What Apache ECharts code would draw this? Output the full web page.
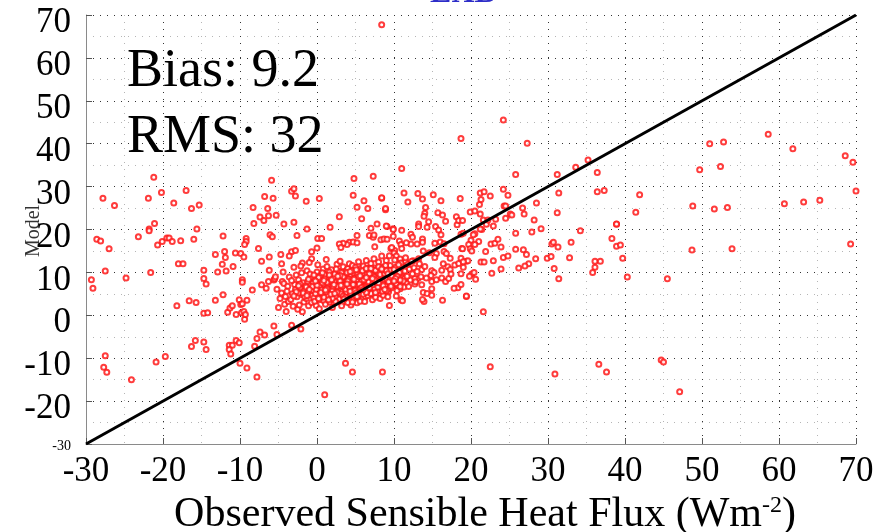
<!DOCTYPE html>
<html>
<head>
<meta charset="utf-8">
<script src="https://cdn.jsdelivr.net/npm/echarts@6/dist/echarts.min.js"></script>
<style>html,body{margin:0;padding:0;background:#fff}#c{width:884px;height:532px}</style>
</head>
<body>
<div id="c"></div>
<script>
// ---- data ----
const titleText = 'EXB';
const xAxisName = 'Observed Sensible Heat Flux (Wm';
const yAxisName = 'Model';
const biasText = 'Bias: 9.2';
const rmsText = 'RMS: 32';
const axisMin = -30, axisMax = 70, axisStep = 10;
const oneToOne = [[-30, -30], [70, 70]];

const ptsLeft = [
 [-21.2,32.2],[-27.8,27.3],[-26.3,25.6],[-20.2,28.6],[-21.9,27.3],[-18.6,26.2],[-17.0,29.1],[-16.3,24.9],[-15.3,25.7],
 [-21.1,21.4],[-21.8,20.1],[-21.8,19.7],[-23.2,18.3],[-28.6,17.7],[-28.1,17.3],[-27.0,15.5],[-20.7,16.4],[-20.1,17.2],
 [-19.5,18.0],[-19.2,18.0],[-18.8,17.2],[-17.7,17.4],[-16.0,17.7],[-15.6,20.1],[-18.0,12.0],[-17.4,12.0],[-21.6,10.0],
 [-27.5,10.3],[-29.3,8.3],[-29.1,6.3],[-24.8,8.7],[-16.6,3.4],[-15.7,3.0],[-18.2,2.2],[-14.7,10.5],[-14.7,8.6],[-14.4,7.3],
 [-14.7,0.5],[-14.2,0.6],[-13.2,3.5],[-12.2,4.8],[-13.2,14.2],[-12.2,18.5],[-12.0,14.9],[-12.3,11.9],[-12.9,10.1],[-11.8,10.3],
 [-10.9,11.4],[-11.9,13.5],[-10.6,14.5],[-15.8,-5.9],[-16.3,-7.3],[-14.7,-6.2],[-14.4,-8.0],[-19.7,-9.6],[-20.9,-10.9],
 [-27.5,-9.4],[-27.7,-12.1],[-27.3,-13.3],[-24.1,-15.0],[-11.6,0.7],[-11.3,1.7],[-11.0,2.2],[-10.5,0.2],[-10.1,3.6],[-9.9,2.5],
 [-9.8,0.6],[-9.4,-0.9],[-9.5,0.9],[-9.3,0.2],[-11.4,-7.0],[-11.0,-7.0],[-11.4,-8.0],[-11.2,-9.0],[-10.5,-5.9],[-10.1,-6.4],
 [-10.0,-11.2],[-9.1,-12.3],[-7.8,-14.4],[-8.1,-7.2],[-7.8,-5.4],[-7.4,-3.9],[-6.8,-4.6],[-5.2,-4.5],[-5.6,-2.5],[-3.3,-2.3],
 [-2.1,-3.2],[1.0,-18.5],[3.7,-11.2],[4.6,-13.2],[8.5,-13.2]
];
const ptsUpper = [
 [8.4,67.7],[-5.9,31.5],[-3.3,28.9],[-3.0,29.5],[-2.8,27.8],[-6.8,27.7],[-5.7,27.3],[-1.4,26.6],[0.3,27.2],[-8.3,25.1],
 [-6.4,24.9],[-7.4,22.9],[-6.9,22.1],[-6.3,23.2],[-5.3,23.3],[-8.2,21.4],[-4.3,21.3],[-3.0,21.7],[-1.3,20.1],[-2.6,18.6],
 [-6.1,18.8],[-5.8,18.3],[-9.2,17.9],[-9.2,17.2],[-9.4,16.5],[-9.9,14.4],[-9.5,13.6],[-7.6,15.6],[-7.2,12.6],[-6.2,13.6],
 [-4.7,14.2],[-4.6,12.0],[-3.3,14.8],[-2.8,15.1],[-3.6,13.8],[-0.7,14.8],[-1.9,12.2],[-0.7,13.2],[-6.2,10.5],[-9.7,8.3],
 [-9.7,7.7],[-8.4,5.9],[-9.1,3.5],[-9.7,2.7],[-7.2,7.1],[-6.6,6.3],[-6.3,7.9],[-5.6,8.2],[-5.5,8.5],[-4.5,7.9],[0.1,17.9],
 [0.6,17.9],[0.0,15.7],[1.7,20.5],[2.9,23.0],[4.7,28.0],[4.8,31.9],[5.2,25.2],[6.1,26.7],[6.6,24.9],[7.3,32.4],[8.4,27.3],
 [8.9,24.6],[5.8,22.5],[7.8,21.3],[7.0,20.3],[9.1,20.7],[9.9,20.2],[5.2,18.6],[4.2,17.0],[4.7,17.1],[5.2,16.9],[3.9,16.5],
 [3.4,16.8],[2.9,16.6],[3.1,15.8],[6.8,18.6],[7.3,18.2],[7.4,18.7],[8.3,17.6],[8.7,17.8],[7.5,16.0],[9.6,15.6],[10.1,15.1]
];
const ptsRight = [
 [24.2,45.5],[18.7,41.2],[27.3,40.1],[11.0,34.2],[35.2,36.2],[33.6,34.5],[36.4,33.3],[31.2,32.8],[25.8,32.8],[31.4,28.5],
 [36.4,28.8],[37.3,29.1],[41.9,28.1],[41.4,24.0],[38.9,21.2],[38.9,21.3],[34.2,19.7],[38.3,17.9],[38.9,16.1],[39.4,16.4],
 [39.7,13.3],[40.3,8.9],[33.0,17.0],[36.1,12.6],[36.8,12.6],[36.1,11.2],[35.8,10.0],[32.8,13.4],[31.2,23.9],[30.8,10.9],
 [31.4,8.5],[29.9,13.3],[30.4,13.7],[30.5,16.6],[30.7,17.0],[31.3,15.9],[29.1,20.2],[28.5,26.2],[28.2,22.2],[27.9,19.4],
 [26.9,23.6],[26.7,25.0],[25.8,19.1],[25.8,15.4],[26.8,15.3],[27.2,14.2],[28.4,13.2],[27.5,12.0],[27.0,11.5],[26.2,11.0],
 [45.5,8.5],[48.7,15.2],[48.8,25.5],[49.7,33.9],[51.0,40.0],[52.8,40.4],[52.4,34.7],[51.6,24.8],[53.3,25.1],[53.9,15.5],
 [58.6,42.2],[61.8,38.8],[60.7,26.0],[63.2,26.4],[65.3,26.8],[68.6,37.2],[69.6,35.7],[70.0,29.0],[69.3,16.6],[22.5,-12.0],
 [30.9,-13.7],[36.6,-11.4],[37.6,-13.2],[44.7,-10.4],[45.0,-10.9],[47.1,-17.8],[21.6,0.8],[19.4,4.4],[16.3,3.5],[13.9,3.2],
 [13.7,3.7],[10.9,3.6],[11.1,3.4],[9.4,2.3]
];
const ptsMid = [
 [13.1,28.4],[11.3,28.5],[13.7,27.1],[11.8,26.4],[15.1,28.1],[16.1,26.7],[14.1,25.1],[14.0,23.8],[13.9,23.1],[13.2,21.3],
 [13.2,20.7],[14.3,20.5],[14.5,21.8],[15.7,23.9],[16.3,23.4],[16.7,21.9],[15.4,20.7],[15.8,19.9],[16.1,18.8],[16.0,17.1],
 [15.3,16.8],[16.5,16.7],[13.7,17.8],[13.7,17.0],[13.0,16.6],[12.2,16.6],[12.2,18.9],[12.4,18.2],[11.0,19.8],[9.9,20.0],
 [9.9,18.4],[9.0,20.8],[8.9,24.9],[8.4,27.4],[10.7,17.3],[10.9,16.5],[11.6,16.9],[11.0,15.6],[9.7,15.8],[9.1,17.7],
 [10.0,14.5],[10.3,13.8],[10.8,13.1],[11.5,12.6],[12.5,12.7],[13.2,13.2],[13.8,15.0],[14.6,14.6],[15.5,14.4],[15.3,13.5],
 [16.5,14.9],[16.8,14.4],[17.3,13.3],[16.4,12.0],[17.0,11.3],[17.3,10.7],[16.2,10.5],[14.9,10.4],[15.2,10.0],[14.8,9.3],
 [13.6,10.7],[13.1,8.6],[12.7,8.6],[12.1,8.2],[11.6,7.5],[11.3,8.6],[11.0,9.8],[10.8,9.2],[10.6,8.0],[10.3,7.2],
 [10.8,6.2],[11.3,6.6],[11.9,6.7],[12.7,7.3],[13.6,7.1],[13.8,5.3],[14.3,5.1],[14.9,7.9],[14.9,6.2],[14.9,4.7],
 [15.5,8.3],[16.2,8.7],[16.7,7.9],[17.1,8.6],[17.4,9.6],[17.9,11.7],[18.4,12.1],[18.7,13.3],[18.7,9.7],[19.0,11.2],
 [19.4,12.6],[18.8,15.6],[18.7,18.9],[19.0,19.1],[18.2,21.1],[18.1,23.0],[18.6,27.2],[18.4,22.1],[18.9,22.1],[19.9,24.1],
 [20.5,24.3],[21.2,23.6],[21.1,25.8],[21.2,28.5],[21.7,28.8],[21.3,27.0],[22.5,27.8],[24.2,29.4],[24.8,28.0],[24.3,25.5],
 [24.5,25.5],[25.1,23.6],[25.3,23.4],[24.5,22.6],[23.2,22.4],[22.9,20.8],[22.0,21.2],[21.4,20.0],[20.5,19.0],[21.2,20.1],
 [20.3,18.8],[20.0,17.5],[21.0,17.2],[20.5,16.5],[19.7,16.5],[19.9,15.5],[18.9,15.5],[20.1,15.0],[19.6,12.7],[19.0,12.5],
 [20.1,9.6],[20.6,8.4],[19.8,9.1],[19.4,4.5],[18.3,6.4],[17.8,6.3],[18.7,7.2],[20.4,10.0],[21.3,12.4],[21.7,12.4],
 [21.9,14.9],[22.6,16.6],[23.1,16.8],[23.5,17.7],[23.9,15.9],[24.2,13.5],[24.8,13.8],[22.9,12.7],[22.7,9.8],[23.9,10.8],
 [21.6,22.2],[22.2,22.2],
 [10.2,10.1],[10.6,9.4],[11.0,11.5],[11.4,10.3],[10.9,12.2],[11.7,9.1],[12.0,10.8],[11.2,8.0],[10.5,6.9],[12.4,9.7],
 [11.8,11.9],[12.6,11.1],[13.0,10.2],[12.3,12.6],[11.5,13.4],[13.3,12.0],[13.5,9.0],[12.8,7.8],[14.0,11.4],[14.2,8.7]
];
const ptsCluster = [
 [-5.2,6.1],[-4.8,3.9],[-5.4,9.0],[-4.6,5.2],[-5.0,1.8],[-4.3,7.4],
 [-4.1,4.4],[-3.8,6.8],[-4.2,2.6],[-3.6,8.9],[-3.9,5.6],[-4.4,10.1],[-3.7,3.2],[-4.0,0.9],
 [-3.2,5.0],[-2.9,7.2],[-3.4,3.7],[-2.7,9.4],[-3.1,2.1],[-2.8,6.0],[-3.3,8.1],[-2.6,4.3],[-3.0,11.2],[-2.5,1.4],
 [-2.2,6.5],[-1.9,4.8],[-2.4,8.3],[-1.7,3.1],[-2.0,9.9],[-1.6,5.7],[-2.3,2.4],[-1.8,7.6],[-2.1,11.5],[-1.5,6.9],[-2.4,5.2],[-1.9,0.8],
 [-1.2,5.3],[-0.9,7.1],[-1.4,3.9],[-0.7,8.8],[-1.1,2.2],[-0.8,6.2],[-1.3,10.4],[-0.6,4.6],[-1.0,12.3],[-0.5,5.8],[-1.2,7.9],[-0.7,3.0],[-1.4,6.6],[-0.9,9.6],
 [-0.2,6.4],[0.1,4.9],[-0.3,8.2],[0.3,3.6],[0.0,10.1],[0.4,5.6],[-0.1,2.3],[0.2,7.4],[0.5,9.0],[-0.4,4.1],[0.6,6.8],[0.1,11.8],[0.3,1.5],[-0.2,5.1],[0.5,8.3],[0.7,4.4],
 [0.8,6.0],[1.1,7.9],[0.9,3.4],[1.3,5.2],[1.0,9.5],[1.4,4.0],[0.8,10.8],[1.2,6.6],[1.5,8.6],[1.1,2.6],[1.6,5.7],[0.9,7.2],[1.3,11.4],[1.7,3.1],[1.4,6.9],[1.0,4.7],[1.8,9.1],[1.2,13.0],
 [1.9,5.4],[2.1,7.7],[2.3,4.2],[2.0,9.2],[2.4,6.3],[2.2,2.9],[2.6,8.4],[1.9,10.6],[2.5,5.0],[2.7,7.0],[2.1,3.7],[2.8,9.9],[2.3,6.0],[2.6,11.9],[2.0,1.8],[2.9,4.6],[2.4,8.0],[2.7,5.8],
 [3.0,6.5],[3.2,8.7],[3.1,4.1],[3.4,7.3],[2.9,10.2],[3.5,5.3],[3.3,3.0],[3.6,9.4],[3.1,6.0],[3.7,7.8],[3.4,11.3],[3.8,4.8],[3.2,2.2],[3.9,6.7],[3.5,8.9],[3.0,12.6],[3.6,5.9],[3.8,10.4],
 [4.0,7.1],[4.2,5.2],[4.1,9.0],[4.4,6.2],[4.3,3.5],[4.6,8.1],[4.0,10.9],[4.7,4.6],[4.5,7.5],[4.2,12.0],[4.8,6.8],[4.4,2.4],[4.9,9.6],[4.1,5.8],[4.6,11.6],[4.3,8.6],[4.8,3.9],[4.5,6.0],
 [5.0,7.6],[5.2,5.5],[5.1,9.3],[5.4,6.6],[5.3,4.0],[5.6,8.4],[5.0,11.2],[5.7,5.0],[5.5,10.0],[5.2,2.9],[5.8,7.1],[5.4,12.5],[5.9,9.0],[5.1,6.2],[5.6,3.3],[5.3,8.0],[5.8,11.0],[5.0,4.5],
 [6.0,7.9],[6.2,5.9],[6.1,9.8],[6.4,7.0],[6.3,4.3],[6.6,8.7],[6.0,11.5],[6.7,6.1],[6.5,10.3],[6.2,3.2],[6.8,7.6],[6.4,12.8],[6.9,9.2],[6.1,5.2],[6.6,4.6],[6.3,8.2],[6.8,11.1],[6.5,6.6],
 [7.0,8.3],[7.2,6.4],[7.1,10.1],[7.4,7.3],[7.3,4.9],[7.6,9.0],[7.0,12.1],[7.7,5.8],[7.5,11.0],[7.2,3.6],[7.8,8.0],[7.4,13.2],[7.9,9.7],[7.1,6.9],[7.6,4.2],[7.3,10.6],[7.8,6.2],
 [8.0,8.7],[8.2,6.8],[8.1,10.5],[8.4,7.6],[8.3,5.1],[8.6,9.4],[8.0,12.4],[8.7,6.2],[8.5,11.2],[8.2,3.9],[8.8,8.3],[8.4,13.8],[8.9,10.0],[8.1,7.1],[8.6,4.7],[8.3,9.0],
 [9.0,9.1],[9.2,7.1],[9.1,10.9],[9.4,8.0],[9.3,5.5],[9.6,9.8],[9.0,12.8],[9.7,6.4],[9.5,11.6],[9.2,4.3],[9.8,8.6],[9.4,13.9],[9.9,10.4],[9.1,7.6],
 [10.1,9.4],[10.3,7.4],[10.2,11.2],[10.5,8.3],[10.4,5.8],[10.7,10.0],[10.1,12.9],[10.8,6.7],[10.6,11.8],[10.3,4.5]
];
const ptsCore = [
 [0.3,6.9],[0.8,5.1],[1.5,7.4],[1.9,6.1],[2.2,8.8],[2.5,4.4],[2.9,7.5],[3.3,5.6],[3.6,6.4],[3.9,8.2],[4.1,4.3],[4.4,9.5],[4.7,5.5],[5.0,8.8],[5.3,6.9],
 [5.6,7.7],[5.9,5.8],[6.2,8.6],[6.5,7.3],[6.8,5.5],[7.1,9.4],[7.4,6.6],[7.7,8.7],[8.0,5.8],[8.3,7.9],[8.6,10.2],[8.9,7.0],[9.2,8.9],[9.5,7.3],[9.8,9.9],
 [0.6,5.9],[1.0,8.5],[1.4,4.6],[1.7,7.9],[2.0,5.7],[2.3,9.6],[2.6,6.8],[2.9,3.8],[3.2,9.9],[3.5,7.0],[3.8,5.4],[4.1,8.4],[4.4,5.0],[4.7,9.9],[5.0,6.0],
 [5.3,9.6],[5.6,6.3],[5.9,10.4],[6.2,6.7],[6.5,9.5],[6.8,8.0],[7.1,5.4],[7.4,8.9],[7.7,7.0],[8.0,10.0],[8.3,6.4],[8.6,8.1],[8.9,11.6],[9.2,6.0],[9.5,10.5],
 [-0.5,7.6],[-0.1,6.1],[0.4,9.2],[0.9,4.2],[1.3,7.7],[1.6,10.1],[2.1,6.8],[2.4,3.3],[2.8,8.5],[3.1,5.0],[3.4,9.0],[3.7,6.1],[4.0,3.0],[4.3,7.7],[4.6,10.4],
 [4.9,5.7],[5.2,8.3],[5.5,4.8],[5.8,8.0],[6.1,6.4],[6.4,10.9],[6.7,7.8],[7.0,5.1],[7.3,7.8],[7.6,10.5],[7.9,7.4],[8.2,9.5],[8.5,5.6],[8.8,9.7],[9.1,8.4],
 [-2.7,5.5],[-2.2,7.3],[-1.6,4.4],[-1.1,8.4],[-0.6,6.7],[-0.3,3.3],[0.2,8.8],[0.7,7.6],[1.2,5.5],[1.6,9.4],[2.0,4.0],[2.5,10.8],[3.0,8.0],[3.4,4.5],[3.9,10.0],
 [4.2,6.6],[4.6,3.1],[5.1,10.6],[5.5,7.3],[6.0,4.9],[6.5,5.6],[7.0,10.9],[7.5,6.2],[8.0,11.3],[8.5,7.3],[9.0,5.7],[9.5,8.7],[10.0,10.7],[10.4,9.1],[10.8,8.2],
 [0.0,7.0],[0.5,5.3],[0.9,8.1],[1.3,6.2],[1.8,4.9],[2.2,7.2],[2.6,5.4],[3.0,9.3],[3.3,6.8],[3.7,4.2],[4.0,8.0],[4.3,5.6],[4.7,7.2],[5.1,5.2],[5.4,9.0],
 [5.8,6.5],[6.1,8.3],[6.4,5.3],[6.8,9.7],[7.2,7.1],[7.5,8.3],[7.9,6.6],[8.2,8.1],[8.6,6.9],[9.0,10.4],[9.3,7.8],[9.7,9.2],[10.2,8.6],[-1.0,6.0],[-0.4,9.4],
 [0.2,3.9],[0.7,9.9],[1.1,5.9],[1.5,3.6],[1.9,8.3],[2.3,5.1],[2.7,9.1],[3.1,7.0],[3.5,3.8],[3.9,7.3],[4.3,10.2],[4.8,8.4],[5.2,4.4],[5.6,9.2],[6.0,6.0],
 [6.4,8.8],[6.8,6.4],[7.2,8.6],[7.6,5.3],[8.0,7.6],[8.4,10.8],[8.8,6.0],[9.2,9.7],[9.6,6.8],[10.0,8.0],[-1.8,5.2],[-2.4,6.9],[-3.0,4.5],[-1.3,4.6],[-0.2,8.0]
];
const allPoints = [].concat(ptsLeft, ptsUpper, ptsRight, ptsMid, ptsCluster, ptsCore);

// ---- chart ----
const SERIF = "'Liberation Serif','Times New Roman',serif";
const chart = echarts.init(document.getElementById('c'), null, {renderer: 'canvas'});
const majorLine = {show: true, lineStyle: {color: '#333', width: 1, type: [1, 6]}};
const minorLine = {show: true, lineStyle: {color: '#b5b5b5', width: 1, type: [1, 6]}};
chart.setOption({
  animation: false,
  backgroundColor: '#fff',
  grid: {left: 86, right: 28, top: 15, bottom: 88, containLabel: false, outerBoundsMode: 'none'},
  graphic: [
    {type: 'text', z: -1, x: 34, y: 231, rotation: Math.PI / 2,
     style: {text: yAxisName, font: "20px " + SERIF, fill: '#333', align: 'center', verticalAlign: 'middle'}},
    {type: 'text', z: 100, x: 463, y: -6,
     style: {text: titleText, font: "bold 32px " + SERIF, fill: '#2d2dc8', align: 'center', verticalAlign: 'middle'}},
    {type: 'text', z: 100, x: 127, y: 72,
     style: {text: biasText, font: "54px " + SERIF, fill: '#000', align: 'left', verticalAlign: 'middle'}},
    {type: 'text', z: 100, x: 127, y: 138,
     style: {text: rmsText, font: "54px " + SERIF, fill: '#000', align: 'left', verticalAlign: 'middle'}}
  ],
  xAxis: {
    type: 'value', min: axisMin, max: axisMax, interval: axisStep,
    name: xAxisName + '{sup|-2}{p|)}', nameLocation: 'middle', nameGap: 39,
    nameTextStyle: {fontFamily: SERIF, fontSize: 42, color: '#000', padding: [0, 0, 0, 28],
      rich: {sup: {fontFamily: SERIF, fontSize: 24, color: '#000', verticalAlign: 'top', padding: [0, 0, 14, 0]},
             p: {fontFamily: SERIF, fontSize: 42, color: '#000'}}},
    axisLine: {show: true, onZero: false, lineStyle: {color: '#8a8a8a', width: 1}},
    axisTick: {show: true, inside: true, length: 6, lineStyle: {color: '#555'}},
    minorTick: {show: false, splitNumber: 2},
    axisLabel: {fontFamily: SERIF, fontSize: 35, color: '#000', margin: 10},
    splitLine: majorLine,
    minorSplitLine: minorLine
  },
  yAxis: {
    type: 'value', min: axisMin, max: axisMax, interval: axisStep,
    axisLine: {show: true, onZero: false, lineStyle: {color: '#8a8a8a', width: 1}},
    axisTick: {show: true, inside: true, length: 6, lineStyle: {color: '#555'}},
    minorTick: {show: false, splitNumber: 2},
    axisLabel: {color: '#000', margin: 15,
      formatter: function (v) { return v === axisMin ? '{g|}\n{s|' + v + '}' : '{e|}\n{n|' + v + '}'; },
      rich: {e: {fontSize: 1, lineHeight: 16},
             n: {fontFamily: SERIF, fontSize: 35, color: '#000', lineHeight: 16},
             g: {fontSize: 1, lineHeight: 5},
             s: {fontFamily: SERIF, fontSize: 14, color: '#000', lineHeight: 5}}},
    splitLine: majorLine,
    minorSplitLine: minorLine
  },
  series: [
    {type: 'scatter', data: allPoints, symbol: 'emptyCircle', symbolSize: 5,
     itemStyle: {color: '#ff1a1a', borderColor: '#ff1a1a', borderWidth: 1, opacity: 0.85}, z: 2},
    {type: 'line', data: oneToOne, symbol: 'none', z: 3,
     lineStyle: {color: '#000', width: 3}}
  ]
});
</script>
</body>
</html>
